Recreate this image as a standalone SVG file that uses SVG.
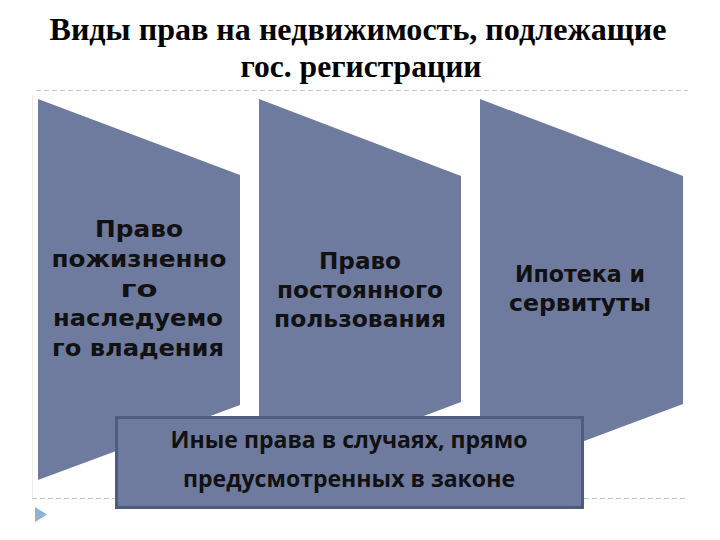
<svg xmlns="http://www.w3.org/2000/svg" width="720" height="540" viewBox="0 0 720 540">
<style>
.title{font-family:"Liberation Serif","Times New Roman",serif;font-weight:bold;font-size:32px;fill:#000;text-anchor:middle}
.shape{fill:#6f7a9f}
.lbl{font-family:"DejaVu Sans","Liberation Sans",sans-serif;font-weight:bold;font-size:23px;fill:#111;text-anchor:middle}
.box{fill:#6f7a9f;stroke:#505b80;stroke-width:3}
.boxlbl{font-family:"Open Sans","Liberation Sans",sans-serif;font-weight:bold;font-size:23px;fill:#111;text-anchor:middle}
.dash{stroke:#c4c4c4;stroke-width:1;stroke-dasharray:5 3;fill:none}
</style>
<rect width="720" height="540" fill="#fff"/>
<g id="title">
<text class="title" x="358" y="40" textLength="617" lengthAdjust="spacingAndGlyphs">Виды прав на недвижимость, подлежащие</text>
<text class="title" x="361" y="77" textLength="241" lengthAdjust="spacingAndGlyphs">гос. регистрации</text>
</g>
<g id="decor">
<line class="dash" x1="36" y1="90.5" x2="688" y2="90.5"/>
<line class="dash" x1="32" y1="498.5" x2="688" y2="498.5"/>
<line x1="32.5" y1="95" x2="32.5" y2="498" stroke="#eeeeee" stroke-width="1"/>
<polygon points="35,507 35,522 47,514.5" fill="#8fb3d0"/>
</g>
<g id="connectors"></g>
<g id="node1">
<polygon class="shape" points="38,99 240,175 240,405 38,480"/>
<text class="lbl" x="139" y="237" textLength="88" lengthAdjust="spacingAndGlyphs">Право</text>
<text class="lbl" x="139" y="267" textLength="175" lengthAdjust="spacingAndGlyphs">пожизненно</text>
<text class="lbl" x="139" y="297" textLength="37" lengthAdjust="spacingAndGlyphs">го</text>
<text class="lbl" x="138" y="326" textLength="170" lengthAdjust="spacingAndGlyphs">наследуемо</text>
<text class="lbl" x="138" y="356" textLength="172" lengthAdjust="spacingAndGlyphs">го владения</text>
</g>
<g id="node2">
<polygon class="shape" points="259,99 461,176 461,402 259,478"/>
<text class="lbl" x="360" y="269" textLength="82" lengthAdjust="spacingAndGlyphs">Право</text>
<text class="lbl" x="360" y="298" textLength="166" lengthAdjust="spacingAndGlyphs">постоянного</text>
<text class="lbl" x="360" y="327" textLength="172" lengthAdjust="spacingAndGlyphs">пользования</text>
</g>
<g id="node3">
<polygon class="shape" points="480,99 683,176 683,404 480,480"/>
<text class="lbl" x="580" y="282" textLength="130" lengthAdjust="spacingAndGlyphs">Ипотека и</text>
<text class="lbl" x="580" y="311" textLength="142" lengthAdjust="spacingAndGlyphs">сервитуты</text>
</g>
<g id="node4">
<rect class="box" x="116.5" y="417.5" width="466" height="90"/>
<text class="boxlbl" x="349" y="448" textLength="357" lengthAdjust="spacingAndGlyphs">Иные права в случаях, прямо</text>
<text class="boxlbl" x="349" y="487" textLength="332" lengthAdjust="spacingAndGlyphs">предусмотренных в законе</text>
</g>
</svg>
